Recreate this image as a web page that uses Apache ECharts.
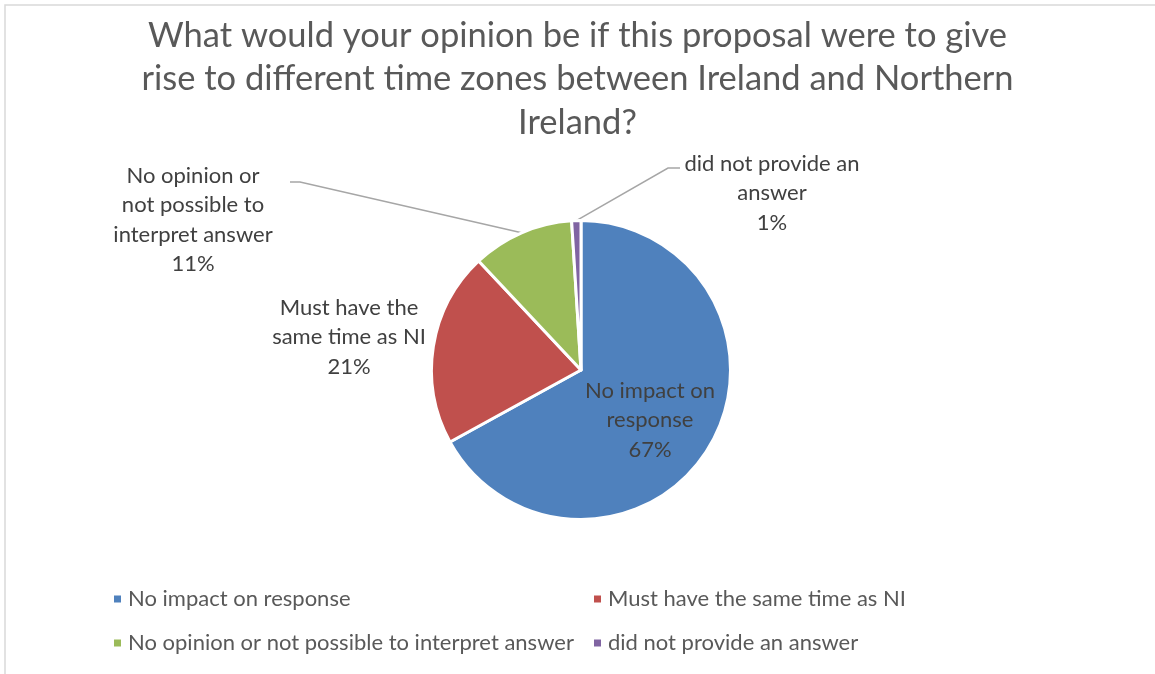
<!DOCTYPE html>
<html>
<head>
<meta charset="utf-8">
<script src="https://cdn.jsdelivr.net/npm/echarts@6/dist/echarts.min.js"></script>
<style>
  html, body { margin: 0; padding: 0; background: #fff; }
  #chart { width: 1155px; height: 674px; }
</style>
</head>
<body>
<div id="chart"></div>
<script>
// Survey responses (percent of respondents)
const categories = [
  'No impact on response',
  'Must have the same time as NI',
  'No opinion or not possible to interpret answer',
  'did not provide an answer'
];
const values = [67, 21, 11, 1];
// Wrapped text used for the slice labels
const labelNames = [
  'No impact on\nresponse',
  'Must have the\nsame time as NI',
  'No opinion or\nnot possible to\ninterpret answer',
  'did not provide an\nanswer'
];
const colors = ['#4F81BD', '#C0504D', '#9BBB59', '#8064A2'];
const titleText = 'What would your opinion be if this proposal were to give\nrise to different time zones between Ireland and Northern\nIreland?';

const FONT = 'Lato, "Open Sans", sans-serif';

// Where each slice label sits, and whether it gets a leader line
const labelSpots = [
  { x: 650, y: 420, line: false },
  { x: 349, y: 337, line: false },
  { x: 193, y: 220, line: true, bendX: 300, bendY: 182, endX: 290 },
  { x: 772, y: 193, line: true, bendX: 668, bendY: 168, endX: 680 }
];

const seriesData = categories.map((name, i) => ({
  name,
  value: values[i],
  itemStyle: { color: colors[i] },
  labelLine: { show: labelSpots[i].line }
}));

// One legend block per entry, laid out in two columns
const legendSpots = [
  { left: 107, top: 583 },
  { left: 587, top: 583 },
  { left: 107, top: 627 },
  { left: 587, top: 627 }
];
const legends = categories.map((name, i) => ({
  data: [name],
  left: legendSpots[i].left,
  top: legendSpots[i].top,
  icon: 'rect',
  itemWidth: 9,
  itemHeight: 9,
  itemGap: 0,
  selectedMode: false,
  textStyle: { fontFamily: FONT, fontSize: 22, color: '#595959', padding: [0, 0, 0, 1] }
}));

const chart = echarts.init(document.getElementById('chart'), null, { renderer: 'canvas' });
chart.setOption({
  animation: false,
  backgroundColor: '#ffffff',
  title: {
    text: titleText,
    left: 'center',
    top: 9,
    textStyle: {
      fontFamily: FONT,
      fontSize: 34.5,
      fontWeight: 'normal',
      color: '#595959',
      lineHeight: 43.5
    }
  },
  legend: legends,
  graphic: [{
    type: 'rect',
    shape: { x: 5, y: 5, width: 1170, height: 700 },
    style: { fill: 'none', stroke: '#d9d9d9', lineWidth: 1.5 },
    silent: true,
    z: -10
  }],
  series: [{
    type: 'pie',
    center: [581, 370],
    radius: 149.5,
    startAngle: 90,
    clockwise: true,
    avoidLabelOverlap: false,
    itemStyle: { borderColor: '#ffffff', borderWidth: 3 },
    label: {
      show: true,
      position: 'outside',
      fontFamily: FONT,
      fontSize: 22,
      color: '#404040',
      lineHeight: 29.5,
      align: 'center',
      formatter: p => labelNames[p.dataIndex] + '\n' + p.value + '%'
    },
    labelLine: {
      show: true,
      lineStyle: { color: '#a6a6a6', width: 1.5 }
    },
    labelLayout: function (params) {
      const spot = labelSpots[params.dataIndex];
      const out = { x: spot.x, y: spot.y, align: 'center', verticalAlign: 'middle' };
      if (spot.line && params.labelLinePoints) {
        const anchor = params.labelLinePoints[0];
        out.labelLinePoints = [
          [anchor[0], anchor[1]],
          [spot.bendX, spot.bendY],
          [spot.endX, spot.bendY]
        ];
      }
      return out;
    },
    emphasis: { disabled: true },
    data: seriesData
  }]
});
</script>
</body>
</html>
